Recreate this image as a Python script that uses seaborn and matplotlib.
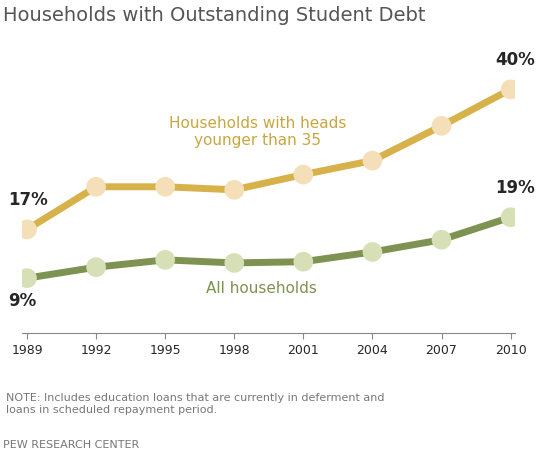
import matplotlib
matplotlib.use("Agg")
import matplotlib.pyplot as plt
import seaborn as sns
import pandas as pd

years = [1989, 1992, 1995, 1998, 2001, 2004, 2007, 2010]
young = [17, 24, 24, 23.5, 26, 28.3, 34, 40]
all_hh = [9, 10.8, 12, 11.5, 11.7, 13.3, 15.3, 19]

sns.set_style("white")
plt.rcParams['font.family'] = ['DejaVu Sans']
fig = plt.figure(figsize=(5.6, 4.67), dpi=100)
ax = fig.add_axes([0.04, 0.287, 0.88, 0.6])

df = pd.DataFrame({"year": years, "young": young, "all": all_hh})
gold, goldm = "#d7b24a", "#f5dfb8"
green, greenm = "#7e9251", "#d6dfb6"
sns.lineplot(data=df, x="year", y="young", ax=ax, color=gold, lw=5, zorder=2)
sns.lineplot(data=df, x="year", y="all", ax=ax, color=green, lw=5, zorder=2)
ax.scatter(years, young, s=200, color=goldm, zorder=3, edgecolor="none")
ax.scatter(years, all_hh, s=200, color=greenm, zorder=3, edgecolor="none")

ax.set_xlim(1988.8, 2010.2)
ax.set_ylim(0, 46)
ax.set_xticks(years)
ax.set_xticklabels([str(y) for y in years], fontsize=9)
ax.set_yticks([])
ax.set_xlabel(""); ax.set_ylabel("")
for s in ["top", "right", "left"]:
    ax.spines[s].set_visible(False)
ax.spines["bottom"].set_color("#888888")
ax.tick_params(axis="x", length=4, color="#888888", bottom=True, pad=4)

ax.text(years[0] - 0.8, young[0] + 4, "17%", fontsize=12, fontweight="bold", ha="left")
ax.text(years[0] - 0.8, all_hh[0] - 4.5, "9%", fontsize=12, fontweight="bold", ha="left")
ax.text(years[-1] + 0.2, young[-1] + 4, "40%", fontsize=12, fontweight="bold", ha="center")
ax.text(years[-1] + 0.2, all_hh[-1] + 4, "19%", fontsize=12, fontweight="bold", ha="center")
ax.text(1999, 33, "Households with heads\nyounger than 35", color="#c9a640", fontsize=11,
        ha="center", va="center", linespacing=1.2)
ax.text(1999.2, 6.5, "All households", color="#7e9251", fontsize=11, ha="center")

fig.text(0.005, 0.955, "Households with Outstanding Student Debt", fontsize=14, color="#555555")
fig.text(0.01, 0.115, "NOTE: Includes education loans that are currently in deferment and\nloans in scheduled repayment period.",
         fontsize=8, color="#777777", linespacing=1.3)
fig.text(0.005, 0.04, "PEW RESEARCH CENTER", fontsize=8, color="#777777")
fig.savefig("out.png", dpi=100)
